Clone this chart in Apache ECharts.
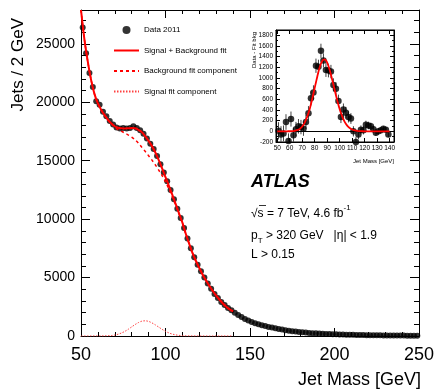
<!DOCTYPE html>
<html><head><meta charset="utf-8">
<script src="https://cdn.jsdelivr.net/npm/echarts@6/dist/echarts.min.js"></script>
<style>html,body{margin:0;padding:0;background:#fff}#c{width:444px;height:389px}</style>
</head><body><div id="c"></div>
<script>
// ---- main plot data (Jets / 2 GeV) ----
const massBins = [51,53,55,57,59,61,63,65,67,69,71,73,75,77,79,81,83,85,87,89,91,93,95,97,99,101,103,105,107,109,111,113,115,117,119,121,123,125,127,129,131,133,135,137,139,141,143,145,147,149,151,153,155,157,159,161,163,165,167,169,171,173,175,177,179,181,183,185,187,189,191,193,195,197,199,201,203,205,207,209,211,213,215,217,219,221,223,225,227,229,231,233,235,237,239,241,243,245,247,249];
const dataCounts = [26400,24200,22500,21300,20100,19800,19200,18800,18400,18100,17850,17750,17800,17750,17800,17950,17800,17600,17300,16900,16450,16000,15400,14700,14000,13250,12500,11700,10900,10100,9250,8350,7500,6750,6100,5550,5000,4500,4050,3600,3250,2900,2650,2400,2200,2000,1800,1620,1460,1320,1200,1100,1000,920,850,780,720,660,600,550,500,455,415,380,345,315,290,265,245,225,208,192,178,165,153,142,132,122,113,105,97,90,84,78,72,67,62,58,54,50,47,44,41,38,36,34,32,30,28,26];
// ---- fit curves (50-140 GeV) ----
const fitMass = [50,52,54,56,58,60,62,64,66,68,70,72,74,76,78,80,82,84,86,88,90,92,94,96,98,100,102,104,106,108,110,112,114,116,118,120,122,124,126,128,130,132,134,136,138,140];
const fitTotal = [27900,25400,23500,21900,20700,19900,19350,18900,18500,18180,17950,17820,17780,17760,17780,17800,17780,17650,17450,17100,16700,16250,15700,15050,14350,13600,12850,12100,11300,10500,9700,8750,7900,7100,6420,5820,5250,4750,4280,3850,3450,3100,2780,2500,2280,2100];
const fitBkg = [27900,25400,23500,21900,20700,19900,19345,18890,18480,18140,17865,17665,17520,17360,17200,17020,16800,16500,16150,15800,15430,15050,14640,14200,13720,13200,12585,11935,11200,10445,9670,8735,7893,7097,6419,5820,5250,4750,4280,3850,3450,3100,2780,2500,2280,2100];
const fitSig = [0,0,0,0,1,2,4,9,20,42,85,155,260,400,580,780,980,1150,1270,1300,1250,1120,950,760,570,400,265,165,98,55,29,15,7,3,1,0,0,0,0,0,0,0,0,0,0,0];
// ---- inset: data - fitted background ----
const insetMass = [51,53,55,57,59,61,63,65,67,69,71,73,75,77,79,81,83,85,87,89,91,93,95,97,99,101,103,105,107,109,111,113,115,117,119,121,123,125,127,129,131,133,135,137,139];
const insetResid = [10,-60,-40,175,-180,230,-75,40,95,80,50,175,340,620,730,1230,1210,1510,1330,1150,1140,1120,870,800,570,270,410,350,270,240,0,-200,-60,30,20,125,110,95,40,-25,0,20,50,30,-60];
const insetErr = [162,156,150,146,142,141,139,137,136,135,134,133,133,133,133,134,133,133,132,130,128,126,124,121,118,115,112,108,104,100,96,91,87,82,78,74,71,67,64,60,57,54,51,49,47];
const insetFit = [0,0,0,0,1,2,5,10,22,45,90,165,275,420,605,815,1020,1200,1320,1350,1290,1150,970,775,585,415,280,178,108,62,34,18,9,4,2,0,0,0,0,0,0,0,0,0,0,0];
// ---- axis ticks ----
const mainXTicks = [50,100,150,200,250];
const mainYTicks = [0,5000,10000,15000,20000,25000];
const insetXTicks = [50,60,70,80,90,100,110,120,130,140];

const FONT = "'Liberation Sans', Arial, Helvetica, sans-serif";
const zip = (a,b) => a.map((v,i)=>[v,b[i]]);

const chart = echarts.init(document.getElementById('c'), null, {renderer:'canvas'});
const axisBase = {
  axisLine:{show:true,onZero:false,lineStyle:{color:'#000',width:1}},
  splitLine:{show:false},
};
const option = {
  animation:false,
  backgroundColor:'#fff',
  textStyle:{fontFamily:FONT},
  grid:[
    {left:81, top:10, width:338, height:326},
    {left:276, top:30, width:118, height:112, show:true, backgroundColor:'#fff', borderColor:'#000', borderWidth:1}
  ],
  xAxis:[
    Object.assign({}, axisBase, {gridIndex:0, type:'value', min:50, max:250, interval:50, position:'bottom',
      axisTick:{inside:true,length:8,lineStyle:{color:'#000'}},
      minorTick:{show:true,splitNumber:5,length:4,lineStyle:{color:'#000'}},
      axisLabel:{fontSize:18,color:'#000',margin:10,fontFamily:FONT}}),
    Object.assign({}, axisBase, {gridIndex:0, type:'value', min:50, max:250, interval:50, position:'top',
      axisTick:{inside:true,length:8,lineStyle:{color:'#000'}},
      minorTick:{show:true,splitNumber:5,length:4,lineStyle:{color:'#000'}},
      axisLabel:{show:false}}),
    Object.assign({}, axisBase, {gridIndex:1, type:'value', min:49, max:143.5, position:'bottom',
      axisTick:{inside:true,length:4,customValues:insetXTicks,lineStyle:{color:'#000'}},
      axisLabel:{fontSize:6.5,color:'#000',margin:3,customValues:insetXTicks,fontFamily:FONT}}),
    Object.assign({}, axisBase, {gridIndex:1, type:'value', min:49, max:143.5, position:'top',
      axisTick:{inside:true,length:4,customValues:insetXTicks,lineStyle:{color:'#000'}},
      axisLabel:{show:false}})
  ],
  yAxis:[
    Object.assign({}, axisBase, {gridIndex:0, type:'value', min:0, max:27900, interval:5000, position:'left',
      axisTick:{inside:true,length:9,lineStyle:{color:'#000'}},
      minorTick:{show:true,splitNumber:5,length:5,lineStyle:{color:'#000'}},
      axisLabel:{fontSize:14,color:'#000',margin:6,fontFamily:FONT,
        formatter:v => mainYTicks.indexOf(v) >= 0 ? String(v) : ''}}),
    Object.assign({}, axisBase, {gridIndex:0, type:'value', min:0, max:27900, interval:5000, position:'right',
      axisTick:{inside:true,length:9,lineStyle:{color:'#000'}},
      minorTick:{show:true,splitNumber:5,length:5,lineStyle:{color:'#000'}},
      axisLabel:{show:false}}),
    Object.assign({}, axisBase, {gridIndex:1, type:'value', min:-200, max:1900, interval:200, position:'left',
      axisTick:{inside:true,length:4,lineStyle:{color:'#000'}},
      minorTick:{show:true,splitNumber:2,length:2,lineStyle:{color:'#000'}},
      axisLabel:{fontSize:6.5,color:'#000',margin:3,fontFamily:FONT,
        formatter:v => (v % 200 === 0 && v <= 1800) ? String(v) : ''}}),
    Object.assign({}, axisBase, {gridIndex:1, type:'value', min:-200, max:1900, interval:200, position:'right',
      axisTick:{inside:true,length:4,lineStyle:{color:'#000'}},
      minorTick:{show:true,splitNumber:2,length:2,lineStyle:{color:'#000'}},
      axisLabel:{show:false}})
  ],
  legend:{
    orient:'vertical', left:113, top:26, padding:0, itemWidth:25, itemHeight:8, itemGap:12.5,
    textStyle:{fontSize:8,color:'#000',fontFamily:FONT,lineHeight:8},
    data:[
      {name:'Data 2011', icon:'circle'},
      {name:'Signal + Background fit', itemStyle:{opacity:0}},
      {name:'Background fit component', itemStyle:{opacity:0}},
      {name:'Signal fit component', itemStyle:{opacity:0}}
    ]
  },
  series:[
    {name:'Data 2011', type:'scatter', xAxisIndex:0, yAxisIndex:0, data:zip(massBins,dataCounts),
      symbol:'circle', symbolSize:6, itemStyle:{color:'#000'}, z:3},
    {name:'Signal + Background fit', type:'line', xAxisIndex:0, yAxisIndex:0, data:zip(fitMass,fitTotal),
      smooth:0.3, symbol:'none', lineStyle:{color:'#ff0000',width:2}, itemStyle:{color:'#ff0000'}, z:5},
    {name:'Background fit component', type:'line', xAxisIndex:0, yAxisIndex:0, data:zip(fitMass,fitBkg),
      smooth:0.3, symbol:'none', lineStyle:{color:'#ff0000',width:1.5,type:[3,3]}, itemStyle:{color:'#ff0000'}, z:4},
    {name:'Signal fit component', type:'line', xAxisIndex:0, yAxisIndex:0, data:zip(fitMass,fitSig),
      smooth:0.3, symbol:'none', lineStyle:{color:'#ff4040',width:1,type:[1.5,1.5]}, itemStyle:{color:'#ff4040'}, z:4},
    // inset
    {type:'custom', xAxisIndex:2, yAxisIndex:2, data:insetMass.map((m,i)=>[m,insetResid[i],insetErr[i]]),
      renderItem:(params, api) => {
        const x = api.value(0), y = api.value(1), e = api.value(2);
        const p1 = api.coord([x, y+e]), p2 = api.coord([x, y-e]);
        return {type:'line', shape:{x1:p1[0],y1:p1[1],x2:p2[0],y2:p2[1]}, style:{stroke:'#444',lineWidth:1}};
      }, clip:true, z:3},
    {type:'scatter', xAxisIndex:2, yAxisIndex:2, data:zip(insetMass,insetResid),
      symbol:'circle', symbolSize:6.5, itemStyle:{color:'#000'}, z:4,
      markLine:{silent:true, symbol:'none', label:{show:false},
        lineStyle:{color:'#000',width:1,type:'solid'},
        data:[[{coord:[49,0]},{coord:[143.5,0]}]]}},
    {type:'line', xAxisIndex:2, yAxisIndex:2, data:zip(fitMass,insetFit),
      smooth:0.3, symbol:'none', lineStyle:{color:'#ff0000',width:1.8}, z:5}
  ],
  graphic:[
    {type:'text', x:18, y:18, rotation:Math.PI/2,
      style:{text:'Jets / 2 GeV', fontSize:17, fontFamily:FONT, fill:'#000', align:'right', verticalAlign:'middle'}},
    {type:'text', x:421, y:380,
      style:{text:'Jet Mass [GeV]', fontSize:18, fontFamily:FONT, fill:'#000', align:'right', verticalAlign:'middle'}},
    {type:'text', x:254, y:32, rotation:Math.PI/2,
      style:{text:'Data - Fit bkg', fontSize:6, fontFamily:FONT, fill:'#000', align:'right', verticalAlign:'middle'}},
    {type:'text', x:394, y:161,
      style:{text:'Jet Mass [GeV]', fontSize:6, fontFamily:FONT, fill:'#000', align:'right', verticalAlign:'middle'}},
    {type:'text', x:251, y:182,
      style:{text:'ATLAS', fontSize:18, fontWeight:'bold', fontStyle:'italic', fontFamily:FONT, fill:'#000', verticalAlign:'middle'}},
    {type:'line', shape:{x1:259, y1:205.5, x2:266, y2:205.5}, style:{stroke:'#000', lineWidth:0.8}},
    {type:'text', x:251, y:212,
      style:{text:'{m|√s = 7 TeV, 4.6 fb}{s|-1}', fontFamily:FONT, fill:'#000', verticalAlign:'middle',
        rich:{m:{fontSize:12, fontFamily:FONT, fill:'#000', lineHeight:16, verticalAlign:'bottom'},
              s:{fontSize:8, fontFamily:FONT, fill:'#000', lineHeight:16, verticalAlign:'top'}}}},
    {type:'text', x:251, y:236,
      style:{text:'{m|p}{b|T}{m| > 320 GeV   |η| < 1.9}', fontFamily:FONT, fill:'#000', verticalAlign:'middle',
        rich:{m:{fontSize:12, fontFamily:FONT, fill:'#000', lineHeight:18, verticalAlign:'middle'},
              b:{fontSize:8, fontFamily:FONT, fill:'#000', lineHeight:18, verticalAlign:'bottom'}}}},
    {type:'text', x:251, y:255,
      style:{text:'L > 0.15', fontSize:12, fontFamily:FONT, fill:'#000', verticalAlign:'middle'}}
  ]
};
chart.setOption(option);
</script>
</body></html>
